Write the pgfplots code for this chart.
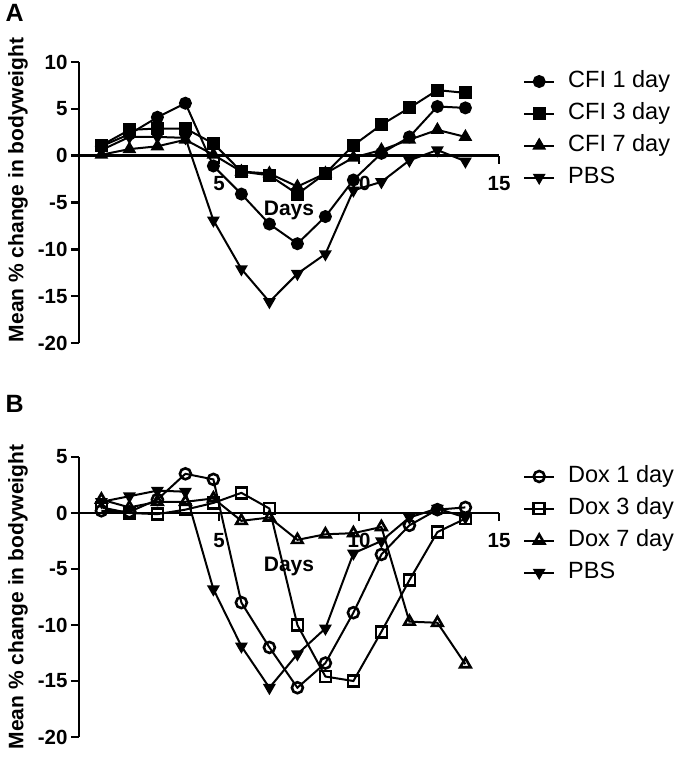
\documentclass[border=0pt]{standalone}
\usepackage{fontspec}
\setmainfont{Liberation Sans}
\usepackage{pgfplots}
\pgfplotsset{compat=1.18}

\pgfplotsset{
  bw/.style={
    scale only axis, width=420pt,
    xmin=0, xmax=15, ymin=-20,
    axis x line=middle, axis y line=left,
    axis line style={line width=2.4pt, -},
    every tick/.style={line width=2.4pt, black},
    tick align=outside, major tick length=8pt,
    xtick={5,10,15}, ytick distance=5,
    tick label style={font=\fontsize{20.5}{24}\selectfont\bfseries,
      /pgf/number format/assume math mode=true},
    x tick label style={yshift=-9pt},
    label style={font=\fontsize{21}{25}\selectfont\bfseries},
    ylabel={Mean \% change in bodyweight},
    xlabel={Days},
    clip=false,
    legend style={draw=none, fill=none,
      at={(axis description cs:1.05,0.99)}, anchor=north west,
      font=\fontsize{23.5}{27}\selectfont, row sep=3pt, column sep=10pt,
      nodes={text height=17pt, text depth=6pt, inner sep=3pt}},
    legend cell align=left,
    legend image code/.code={%
      \draw[mark repeat=2,mark phase=2,##1] plot coordinates {(0pt,0pt)(15pt,0pt)(30pt,0pt)};},
    every axis plot/.append style={black, line width=2pt},
  },
  filled/.style={mark=#1, mark size=5.5pt},
  open/.style={mark=#1, mark size=5.5pt, mark options={solid, line width=2.6pt}},
  pbs/.style={mark=triangle*, mark size=5.5pt, mark options={rotate=180}},
}

\begin{document}
\begin{tikzpicture}
\path[use as bounding box] (0pt,0pt) rectangle (680pt,-765pt);
\node[font=\fontsize{25}{29}\selectfont\bfseries, anchor=north west] at (2pt,-1pt) {A};
\node[font=\fontsize{25}{29}\selectfont\bfseries, anchor=north west] at (2pt,-392pt) {B};

% panel A
\begin{axis}[bw, at={(79pt,-343pt)}, anchor=south west, height=281pt, ymax=10,
  xlabel style={at={(axis cs:7.5,-5.8)}, anchor=center},
  ylabel style={at={(axis description cs:-0.145,0.545)}, anchor=center}]
\addplot[filled=*] coordinates {
  (0.8,1.0) (1.8,2.3) (2.8,4.1) (3.8,5.6) (4.8,-1.1) (5.8,-4.1) (6.8,-7.3)
  (7.8,-9.4) (8.8,-6.5) (9.8,-2.6) (10.8,0.25) (11.8,2.0) (12.8,5.25) (13.8,5.1)};
\addlegendentry{CFI 1 day}
\addplot[filled=square*] coordinates {
  (0.8,1.1) (1.8,2.75) (2.8,2.9) (3.8,2.9) (4.8,1.3) (5.8,-1.7) (6.8,-2.1)
  (7.8,-4.1) (8.8,-1.9) (9.8,1.1) (10.8,3.3) (11.8,5.1) (12.8,7.0) (13.8,6.7)};
\addlegendentry{CFI 3 day}
\addplot[filled=triangle*, mark size=6pt] coordinates {
  (0.8,0.1) (1.8,0.7) (2.8,1.0) (3.8,1.7) (4.8,0.1) (5.8,-1.7) (6.8,-1.9)
  (7.8,-3.3) (8.8,-1.9) (9.8,-0.2) (10.8,0.6) (11.8,1.7) (12.8,2.75) (13.8,2.0)};
\addlegendentry{CFI 7 day}
\addplot[pbs] coordinates {
  (0.8,0.6) (1.8,2.0) (2.8,2.0) (3.8,1.9) (4.8,-6.9) (5.8,-12.1) (6.8,-15.6)
  (7.8,-12.6) (8.8,-10.5) (9.8,-3.7) (10.8,-2.8) (11.8,-0.5) (12.8,0.6) (13.8,-0.6)};
\addlegendentry{PBS}
\end{axis}

% panel B
\begin{axis}[bw, at={(79pt,-737pt)}, anchor=south west, height=280pt, ymax=5,
  xlabel style={at={(axis cs:7.5,-4.8)}, anchor=center},
  ylabel style={at={(axis description cs:-0.145,0.5)}, anchor=center}]
\addplot[open=o] coordinates {
  (0.8,0.2) (1.8,0.1) (2.8,1.2) (3.8,3.5) (4.8,3.0) (5.8,-8.0) (6.8,-12.0)
  (7.8,-15.6) (8.8,-13.4) (9.8,-8.9) (10.8,-3.7) (11.8,-1.1) (12.8,0.3) (13.8,0.5)};
\addlegendentry{Dox 1 day}
\addplot[open=square] coordinates {
  (0.8,0.5) (1.8,0.0) (2.8,-0.1) (3.8,0.3) (4.8,0.9) (5.8,1.8) (6.8,0.4)
  (7.8,-10.0) (8.8,-14.6) (9.8,-15.0) (10.8,-10.6) (11.8,-6.0) (12.8,-1.7) (13.8,-0.5)};
\addlegendentry{Dox 3 day}
\addplot[open=triangle, mark size=6pt] coordinates {
  (0.8,1.2) (1.8,0.5) (2.8,1.0) (3.8,1.0) (4.8,1.3) (5.8,-0.7) (6.8,-0.4)
  (7.8,-2.4) (8.8,-1.9) (9.8,-1.8) (10.8,-1.25) (11.8,-9.7) (12.8,-9.8) (13.8,-13.5)};
\addlegendentry{Dox 7 day}
\addplot[pbs] coordinates {
  (0.8,1.0) (1.8,1.5) (2.8,2.0) (3.8,1.9) (4.8,-6.8) (5.8,-11.9) (6.8,-15.6)
  (7.8,-12.6) (8.8,-10.3) (9.8,-3.6) (10.8,-2.5) (11.8,-0.4) (12.8,0.4) (13.8,-0.4)};
\addlegendentry{PBS}
\end{axis}
\end{tikzpicture}
\end{document}
